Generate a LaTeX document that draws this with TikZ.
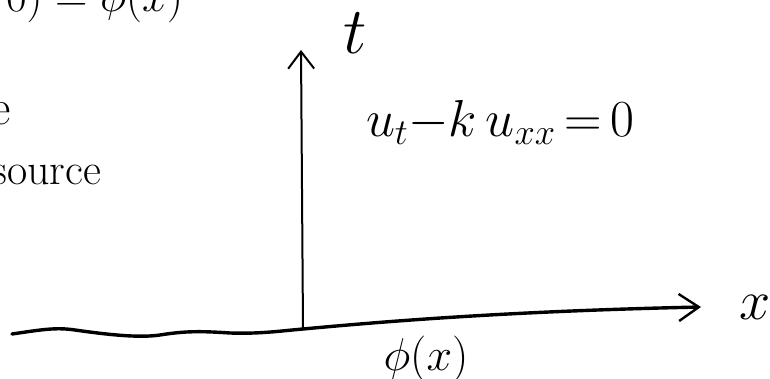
\RequirePackage{fix-cm}
\documentclass[tikz,border=0pt]{standalone}
\usetikzlibrary{arrows.meta}
\tikzset{
  lbl/.style={inner sep=0pt, outer sep=0pt, text=black},
  axisv/.style={line width=2pt, line cap=round, -{Straight Barb[length=17pt,width=26pt,line width=2pt]}},
  axish/.style={line width=3.4pt, line cap=round, line join=round, -{Straight Barb[length=20pt,width=27pt,line width=2.4pt]}}
}
\begin{document}
\begin{tikzpicture}[x=1pt,y=-1pt]
\useasboundingbox (0,0) rectangle (770,379);
\clip (0,0) rectangle (770,379);
\fill[white] (0,0) rectangle (770,379);
% coordinates of the axes
\coordinate (O) at (303,329);
\coordinate (T) at (301,50);
\coordinate (XL) at (12,334);
\coordinate (XR) at (701,307);
% vertical axis
\draw[axisv] (O) -- (T);
% wavy horizontal axis
\draw[axish] (XL) .. controls (40,330) and (55,327) .. (75,330)
  .. controls (110,335) and (140,338) .. (160,335)
  .. controls (185,331) and (200,331) .. (230,333)
  .. controls (260,334) and (280,331) .. (O)
  .. controls (400,320) and (520,311) .. (XR);
% labels
\node[lbl, anchor=center] (tlab) at (355,33) {\fontsize{66}{70}\selectfont$t$};
\node[lbl, anchor=center] (xlab) at (755,307) {\fontsize{56}{60}\selectfont$x$};
\node[lbl, anchor=center] (phi) at (426,359) {\fontsize{46}{50}\selectfont$\phi(x)$};
\node[lbl, anchor=base west] (pde) at (366,137) {\fontsize{52}{56}\selectfont$u_t{-}k\,u_{xx}\,{=}\,0$};
% partially visible text at the left edge
\node[lbl, anchor=base east] (init) at (183,12) {\fontsize{45}{50}\selectfont$0)=\phi(x)$};
\node[lbl, anchor=base east] (eword) at (11,125) {\fontsize{50}{56}\selectfont e};
\node[lbl, anchor=base east] (src) at (101,185) {\fontsize{44}{50}\selectfont source};
\end{tikzpicture}
\end{document}
